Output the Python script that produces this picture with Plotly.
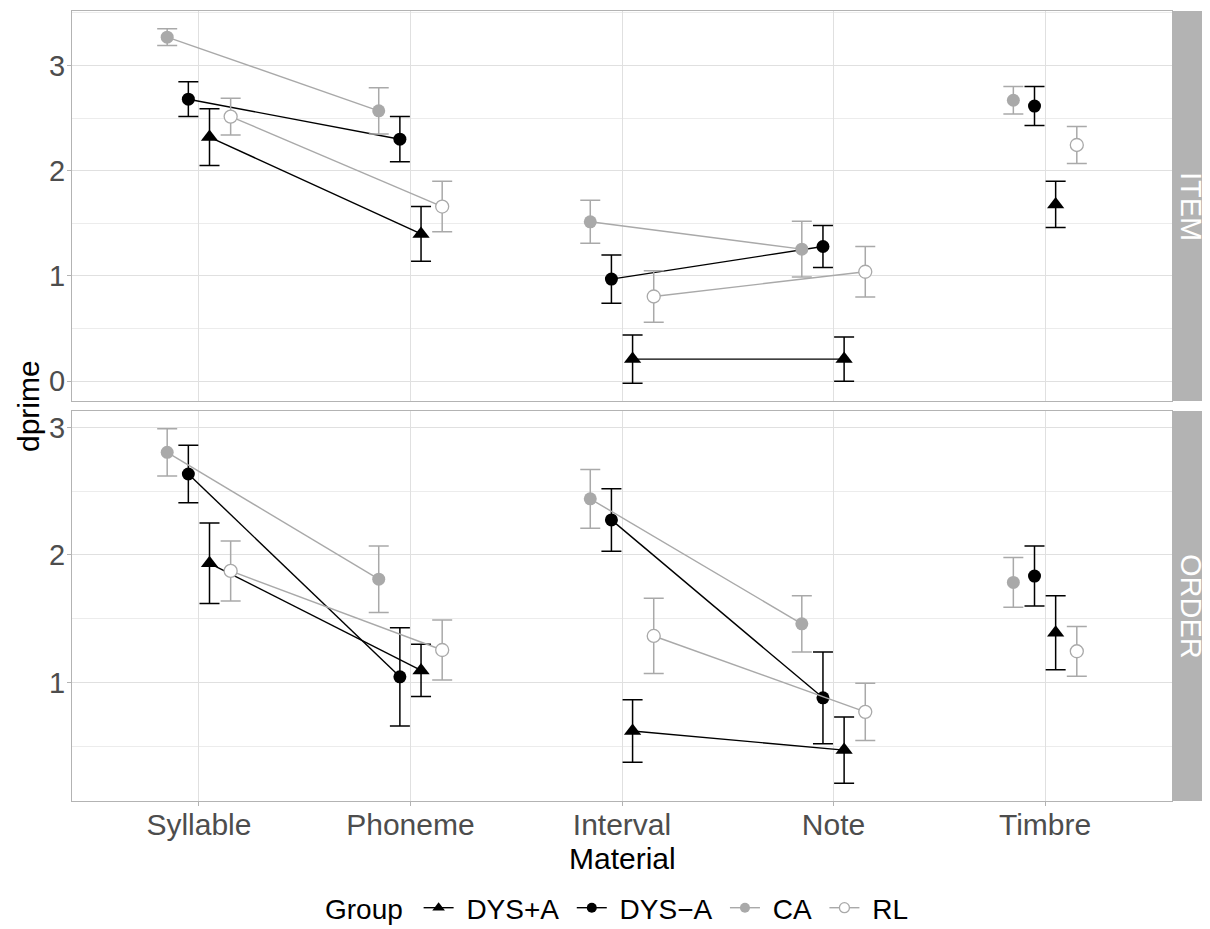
import plotly.graph_objects as go

# ---------------- data ----------------
materials = ["Syllable", "Phoneme", "Interval", "Note", "Timbre"]
material_domain = ["Verbal", "Verbal", "Musical", "Musical", "Timbre"]
groups = ["DYS+A", "DYS-A", "CA", "RL"]
panels = ["ITEM", "ORDER"]

# ITEM (mean dprime and standard error)
item_dys_plus_mean = [2.32, 1.40, 0.21, 0.21, 1.68]
item_dys_plus_se = [0.27, 0.26, 0.23, 0.21, 0.22]
item_dys_minus_mean = [2.68, 2.30, 0.97, 1.28, 2.615]
item_dys_minus_se = [0.165, 0.215, 0.23, 0.20, 0.185]
item_ca_mean = [3.27, 2.57, 1.515, 1.255, 2.67]
item_ca_se = [0.08, 0.22, 0.205, 0.265, 0.13]
item_rl_mean = [2.515, 1.66, 0.805, 1.04, 2.245]
item_rl_se = [0.175, 0.24, 0.245, 0.24, 0.175]

# ORDER (mean dprime and standard error)
order_dys_plus_mean = [1.935, 1.095, 0.62, 0.47, 1.39]
order_dys_plus_se = [0.315, 0.205, 0.245, 0.26, 0.29]
order_dys_minus_mean = [2.635, 1.045, 2.275, 0.88, 1.835]
order_dys_minus_se = [0.225, 0.385, 0.245, 0.36, 0.235]
order_ca_mean = [2.805, 1.81, 2.44, 1.46, 1.785]
order_ca_se = [0.185, 0.26, 0.23, 0.22, 0.195]
order_rl_mean = [1.875, 1.255, 1.365, 0.77, 1.245]
order_rl_se = [0.235, 0.235, 0.295, 0.225, 0.195]

data = {
    "ITEM": {
        "DYS+A": (item_dys_plus_mean, item_dys_plus_se),
        "DYS-A": (item_dys_minus_mean, item_dys_minus_se),
        "CA": (item_ca_mean, item_ca_se),
        "RL": (item_rl_mean, item_rl_se),
    },
    "ORDER": {
        "DYS+A": (order_dys_plus_mean, order_dys_plus_se),
        "DYS-A": (order_dys_minus_mean, order_dys_minus_se),
        "CA": (order_ca_mean, order_ca_se),
        "RL": (order_rl_mean, order_rl_se),
    },
}

# ---------------- styles ----------------
GREY = "#a9a9a9"
dodge = {"CA": -0.15, "DYS-A": -0.05, "DYS+A": 0.05, "RL": 0.15}
style = {
    "DYS+A": dict(symbol="triangle-up", size=15, lsize=11, color="black", mcolor="black", lw=0),
    "DYS-A": dict(symbol="circle", size=13, lsize=10, color="black", mcolor="black", lw=0),
    "CA": dict(symbol="circle", size=13, lsize=10, color=GREY, mcolor=GREY, lw=0),
    "RL": dict(symbol="circle", size=13, lsize=10, color=GREY, mcolor="white", lw=1.3),
}
NB = "\u00a0"
legend_names = {"DYS+A": "DYS+A", "DYS-A": "DYS\u2212A", "CA": "CA", "RL": "RL"}
FONT = "Liberation Sans, Arial, Helvetica, sans-serif"

axes_for = {"ITEM": ("x2", "y2"), "ORDER": ("x", "y")}

fig = go.Figure()

for panel in panels:
    xa, ya = axes_for[panel]
    for g in groups:
        mean, se = data[panel][g]
        st = style[g]
        xs, ys, es = [], [], []
        for i, m in enumerate(materials):
            if i > 0 and material_domain[i] != material_domain[i - 1]:
                xs.append(None); ys.append(None); es.append(0)
            xs.append(i + 1 + dodge[g]); ys.append(mean[i]); es.append(se[i])
        fig.add_trace(go.Scatter(
            x=xs, y=ys, xaxis=xa, yaxis=ya,
            mode="lines+markers", connectgaps=False,
            name=legend_names[g], legendgroup=g, showlegend=False,
            line=dict(color=st["color"], width=1.4),
            marker=dict(symbol=st["symbol"], size=st["size"], color=st["mcolor"],
                        line=dict(color=st["color"], width=st["lw"])),
            error_y=dict(type="data", array=es, visible=True, color=st["color"],
                         thickness=1.5, width=10),
        ))

# legend entries (smaller keys, as in the reference legend)
for g in groups:
    st = style[g]
    fig.add_trace(go.Scatter(
        x=[None], y=[None], xaxis="x", yaxis="y", mode="lines+markers",
        name=NB + legend_names[g] + NB, legendgroup=g, showlegend=True,
        line=dict(color=st["color"], width=1.4),
        marker=dict(symbol=st["symbol"], size=st["lsize"], color=st["mcolor"],
                    line=dict(color=st["color"], width=st["lw"])),
    ))


def yrange(panel):
    lo = min(m - s for g in groups for m, s in zip(*data[panel][g]))
    hi = max(m + s for g in groups for m, s in zip(*data[panel][g]))
    pad = (hi - lo) * 0.05
    return [lo - pad, hi + pad]


PLOT_W = 1100.0
PLOT_H = 790.0
gap = 10.0
bot_dom = [0, (PLOT_H - gap) / 2 / PLOT_H]
top_dom = [1 - (PLOT_H - gap) / 2 / PLOT_H, 1]

common_x = dict(range=[0.4, 5.6], tickvals=[1, 2, 3, 4, 5], ticktext=materials,
                showgrid=True, gridcolor="#e0e0e0", gridwidth=1.1, zeroline=False,
                showline=True, mirror=True, linecolor="#b3b3b3", linewidth=1.2)
common_y = dict(dtick=1, tick0=0, showgrid=True, gridcolor="#e0e0e0", gridwidth=1.1,
                zeroline=False, showline=True, mirror=True, linecolor="#b3b3b3", linewidth=1.2,
                ticks="outside", ticklen=4, tickcolor="#b3b3b3", tickwidth=1,
                ticklabelstandoff=-4,
                tickfont=dict(size=29, color="#4d4d4d", family=FONT),
                minor=dict(dtick=0.5, tick0=0, showgrid=True, gridcolor="#ececec", gridwidth=0.6, ticks=""))

fig.update_layout(
    width=1202, height=921,
    margin=dict(l=64, r=38, t=3, b=128, autoexpand=False),
    paper_bgcolor="white", plot_bgcolor="white",
    font=dict(family=FONT, color="black"),
    xaxis=dict(domain=[0, 1], anchor="y", ticks="outside", ticklen=4, tickcolor="#b3b3b3",
               ticklabelstandoff=-7,
               tickfont=dict(size=30, color="#4d4d4d", family=FONT), **common_x),
    xaxis2=dict(domain=[0, 1], anchor="y2", matches="x", showticklabels=False, ticks="", **common_x),
    yaxis=dict(domain=bot_dom, anchor="x", range=yrange("ORDER"), **common_y),
    yaxis2=dict(domain=top_dom, anchor="x2", range=yrange("ITEM"), **common_y),
    legend=dict(orientation="h", x=0.5, xanchor="center", y=-107 / PLOT_H, yanchor="middle",
                title=dict(text="Group" + NB, side="left", font=dict(size=28, color="black")),
                font=dict(size=28, color="black", family=FONT), itemwidth=30,
                bgcolor="rgba(0,0,0,0)"),
    showlegend=True,
)

# facet strips on the right
strip_w = 38 / PLOT_W
for panel, dom in (("ITEM", top_dom), ("ORDER", bot_dom)):
    fig.add_shape(type="rect", xref="paper", yref="paper", x0=1.0008, x1=1 + strip_w,
                  y0=dom[0], y1=dom[1], fillcolor="#b3b3b3", line=dict(width=0), layer="below")
    fig.add_annotation(text=panel, xref="paper", yref="paper", x=1 + strip_w / 2,
                       y=(dom[0] + dom[1]) / 2, textangle=90, showarrow=False,
                       font=dict(size=29, color="white", family=FONT),
                       xanchor="center", yanchor="middle")

# axis titles
fig.add_annotation(text="Material", xref="paper", yref="paper", x=0.5, y=-57 / PLOT_H,
                   showarrow=False, xanchor="center", yanchor="middle",
                   font=dict(size=30, color="black", family=FONT))
fig.add_annotation(text="dprime", xref="paper", yref="paper", x=-44 / PLOT_W, y=0.5,
                   showarrow=False, textangle=-90, xanchor="center", yanchor="middle",
                   font=dict(size=30, color="black", family=FONT))

fig.write_html("out.html")
